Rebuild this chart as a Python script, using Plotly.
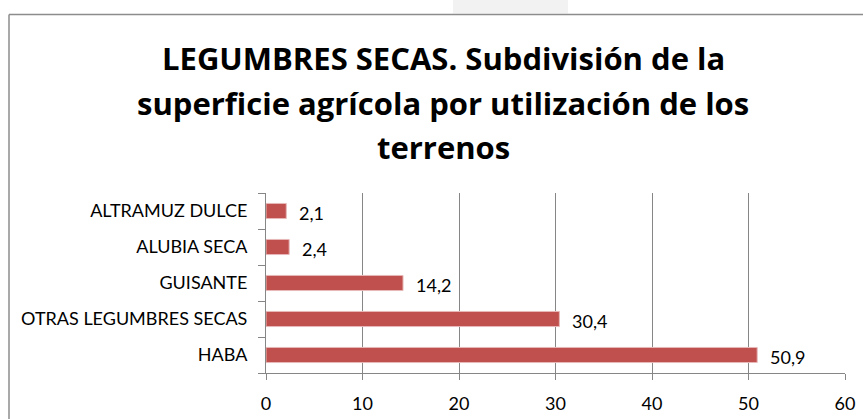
import plotly.graph_objects as go

categories = ["HABA", "OTRAS LEGUMBRES SECAS", "GUISANTE", "ALUBIA SECA", "ALTRAMUZ DULCE"]
values = [50.9, 30.4, 14.2, 2.4, 2.1]
value_labels = ["50,9", "30,4", "14,2", "2,4", "2,1"]
x_ticks = [0, 10, 20, 30, 40, 50, 60]
title_lines = ["LEGUMBRES SECAS. Subdivisión de la",
               "superficie agrícola por utilización de los",
               "terrenos"]

W, H = 863, 419
L, R, T, B = 266, 18, 193, 46
PW, PH = W - L - R, H - T - B

def px(x):
    return (x - L) / PW

def py(y):
    return (H - B - y) / PH

FONT = "Lato"
TFONT = "Open Sans"
GRID = "#868686"

fig = go.Figure()
fig.add_trace(go.Bar(
    y=categories, x=values, orientation="h",
    marker=dict(color="#C0504D", line=dict(color="#E6B9B8", width=1)),
    width=0.42, hoverinfo="skip",
))

for c, v, t in zip(categories, values, value_labels):
    fig.add_annotation(x=v, y=c, xref="x", yref="y", text=t, showarrow=False,
                       xanchor="left", yanchor="middle", xshift=11, yshift=-2,
                       font=dict(family=FONT, size=18, color="#000000"))

title_centers = [58, 103, 147]
for line, yc in zip(title_lines, title_centers):
    fig.add_annotation(x=px(443), y=py(yc), xref="paper", yref="paper", text="<b>%s</b>" % line,
                       showarrow=False, xanchor="center", yanchor="middle",
                       font=dict(family=TFONT, size=31, color="#000000"))

# chart frame and top tab
fig.add_shape(type="rect", xref="paper", yref="paper", x0=px(453), x1=px(568), y0=py(0), y1=py(13.5),
              fillcolor="#F2F2F2", line=dict(width=0), layer="below")
fig.add_shape(type="line", xref="paper", yref="paper", x0=px(9), x1=px(W + 5), y0=py(14.5), y1=py(14.5),
              line=dict(color="#8C8C8C", width=1.5))
fig.add_shape(type="line", xref="paper", yref="paper", x0=px(9), x1=px(9), y0=py(14.5), y1=py(H + 5),
              line=dict(color="#8C8C8C", width=1.5))

fig.update_layout(
    width=W, height=H,
    margin=dict(l=L, r=R, t=T, b=B, pad=0, autoexpand=False),
    paper_bgcolor="white", plot_bgcolor="white",
    showlegend=False,
    bargap=0.58,
    font=dict(family=FONT, size=18, color="#000000"),
)
fig.update_xaxes(
    range=[0, 60], tickvals=x_ticks, ticktext=[str(v) for v in x_ticks],
    showgrid=True, gridcolor=GRID, gridwidth=1,
    showline=True, linecolor=GRID, linewidth=1,
    ticks="outside", ticklen=6, tickcolor=GRID, tickwidth=1,
    tickfont=dict(family=FONT, size=18, color="#000000"),
    ticklabelstandoff=8, zeroline=False, fixedrange=True, automargin=False,
)
fig.update_yaxes(
    categoryorder="array", categoryarray=categories,
    showline=True, linecolor=GRID, linewidth=1,
    ticks="outside", ticklen=7, tickcolor=GRID, tickwidth=1, tickson="boundaries",
    tickfont=dict(family=FONT, size=18, color="#000000"),
    ticklabelstandoff=14, showgrid=False, fixedrange=True, automargin=False,
)

fig.write_html("out.html", config={"displayModeBar": False},
               post_script="document.body.style.margin='0';document.body.style.overflow='hidden';")
